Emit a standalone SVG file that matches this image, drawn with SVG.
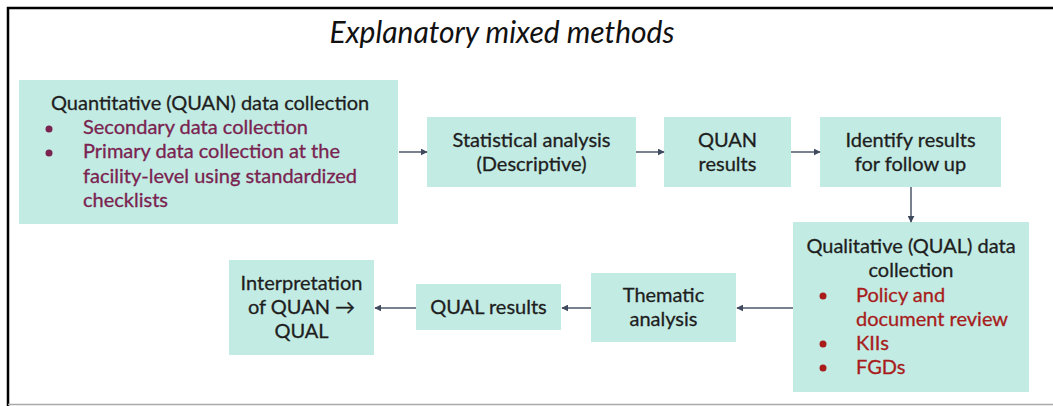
<svg xmlns="http://www.w3.org/2000/svg" width="1053" height="406" viewBox="0 0 1053 406">
<defs>
<style>
.box{fill:#c2ebe3;}
.t{font-family:Lato,"Open Sans","Liberation Sans",sans-serif;font-size:20px;fill:#1e1e1e;stroke:#1e1e1e;stroke-width:0.3;}
.c{text-anchor:middle;}
.p{fill:#7a2350;stroke:#7a2350;}
.r{fill:#a81c1c;stroke:#a81c1c;}
.conn{stroke:#4d5668;stroke-width:1.5;fill:none;marker-end:url(#ah);}
</style>
<marker id="ah" viewBox="0 0 10 10" refX="9" refY="5" markerWidth="7" markerHeight="7" markerUnits="userSpaceOnUse" orient="auto">
<path d="M0,0 L10,5 L0,10 z" fill="#3f4a5e"/>
</marker>
</defs>
<rect x="0" y="0" width="1053" height="406" fill="#ffffff"/>
<path d="M8,406 V8 H1053" stroke="#000" stroke-width="2.5" fill="none"/>
<line x1="8" y1="404.5" x2="1053" y2="404.5" stroke="#aaaaaa" stroke-width="1.5"/>
<text x="502" y="43" text-anchor="middle" style="font-family:Lato,'Liberation Sans',sans-serif;font-size:30px;font-style:italic;fill:#111;">Explanatory mixed methods</text>

<g id="quan-collection">
<rect class="box" x="19" y="80" width="379" height="144"/>
<text class="t" x="51" y="110">Quantitative (QUAN) data collection</text>
<circle cx="49" cy="129" r="3.5" fill="#7a2350"/>
<text class="t p" x="83" y="134">Secondary data collection</text>
<circle cx="49" cy="153" r="3.5" fill="#7a2350"/>
<text class="t p" x="83" y="158">Primary data collection at the</text>
<text class="t p" x="83" y="183">facility-level using standardized</text>
<text class="t p" x="83" y="207">checklists</text>
</g>

<g id="stat-analysis">
<rect class="box" x="427" y="117" width="209" height="70"/>
<text class="t c" x="531.5" y="147">Statistical analysis</text>
<text class="t c" x="531.5" y="171">(Descriptive)</text>
</g>

<g id="quan-results">
<rect class="box" x="664" y="117" width="127" height="70"/>
<text class="t c" x="727.5" y="147">QUAN</text>
<text class="t c" x="727.5" y="171">results</text>
</g>

<g id="identify">
<rect class="box" x="820" y="117" width="181" height="70"/>
<text class="t c" x="910.5" y="147">Identify results</text>
<text class="t c" x="910.5" y="171">for follow up</text>
</g>

<g id="qual-collection">
<rect class="box" x="793" y="222" width="236" height="170"/>
<text class="t c" x="911" y="253">Qualitative (QUAL) data</text>
<text class="t c" x="911" y="277">collection</text>
<circle cx="823" cy="296" r="3.5" fill="#a81c1c"/>
<text class="t r" x="856" y="302">Policy and</text>
<text class="t r" x="856" y="326">document review</text>
<circle cx="823" cy="344" r="3.5" fill="#a81c1c"/>
<text class="t r" x="856" y="350">KIIs</text>
<circle cx="823" cy="368" r="3.5" fill="#a81c1c"/>
<text class="t r" x="856" y="374">FGDs</text>
</g>

<g id="thematic">
<rect class="box" x="591" y="273" width="145" height="69"/>
<text class="t c" x="663.5" y="302">Thematic</text>
<text class="t c" x="663.5" y="326">analysis</text>
</g>

<g id="qual-results">
<rect class="box" x="416" y="284" width="145" height="46"/>
<text class="t c" x="488.5" y="314">QUAL results</text>
</g>

<g id="interpretation">
<rect class="box" x="229" y="260" width="145" height="95"/>
<text class="t c" x="301.5" y="290">Interpretation</text>
<text class="t c" x="301.5" y="314">of QUAN →</text>
<text class="t c" x="301.5" y="338">QUAL</text>
</g>

<g id="connectors">
<line class="conn" x1="399" y1="152" x2="427" y2="152"/>
<line class="conn" x1="636" y1="152" x2="664" y2="152"/>
<line class="conn" x1="791" y1="152" x2="820" y2="152"/>
<line class="conn" x1="911" y1="187" x2="911" y2="222"/>
<line class="conn" x1="793" y1="308" x2="737" y2="308"/>
<line class="conn" x1="591" y1="308" x2="562" y2="308"/>
<line class="conn" x1="416" y1="308" x2="375" y2="308"/>
</g>
</svg>
